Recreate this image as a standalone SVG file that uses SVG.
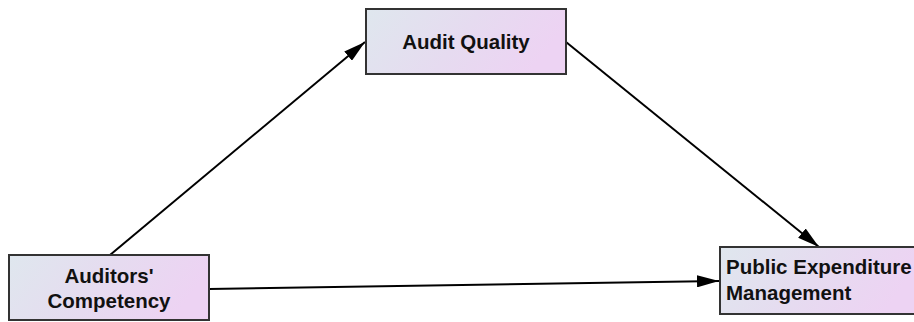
<svg xmlns="http://www.w3.org/2000/svg" width="914" height="322" viewBox="0 0 914 322">
<defs>
<linearGradient id="g" x1="0" y1="0" x2="1" y2="0.25">
<stop offset="0" stop-color="#dfe7ee"/>
<stop offset="0.55" stop-color="#e6dbf0"/>
<stop offset="1" stop-color="#edd3f3"/>
</linearGradient>
<marker id="ah" viewBox="0 0 22 12" refX="22" refY="6" markerWidth="22" markerHeight="12" markerUnits="userSpaceOnUse" orient="auto">
<path d="M0,0 L22,6 L0,12 z" fill="#000"/>
</marker>
<style>
.box{fill:url(#g);stroke:#333;stroke-width:2}
.t{font-family:"Liberation Sans",Arial,sans-serif;font-weight:bold;font-size:20.5px;fill:#111}
.c{stroke:#000;stroke-width:2;fill:none;marker-end:url(#ah)}
</style>
</defs>
<g id="connectors">
<line class="c" x1="110" y1="255" x2="365" y2="42"/>
<line class="c" x1="566" y1="42" x2="819" y2="247"/>
<line class="c" x1="209" y1="289" x2="719" y2="281"/>
</g>
<g id="audit-quality">
<rect class="box" x="366" y="9" width="200" height="65"/>
<text class="t" x="466" y="49" text-anchor="middle">Audit Quality</text>
</g>
<g id="auditors-competency">
<rect class="box" x="9" y="255" width="200" height="65"/>
<text class="t" x="109" y="283" text-anchor="middle">Auditors'</text>
<text class="t" x="109" y="308" text-anchor="middle">Competency</text>
</g>
<g id="public-expenditure-management">
<rect class="box" x="720" y="247" width="200" height="67"/>
<text class="t" x="726" y="274">Public Expenditure</text>
<text class="t" x="726" y="300">Management</text>
</g>
</svg>
